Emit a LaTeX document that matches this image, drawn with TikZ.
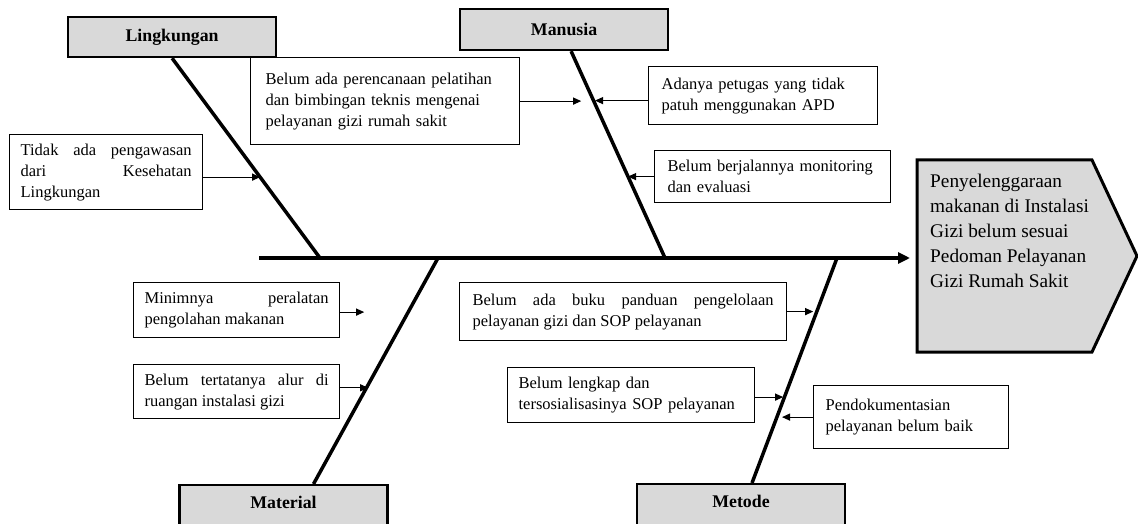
\documentclass[tikz,border=0pt]{standalone}
\usepackage{fontspec}
\setmainfont{Liberation Serif}
\usetikzlibrary{arrows.meta,positioning}
\definecolor{headgray}{HTML}{D9D9D9}

\begin{document}
\begin{tikzpicture}[
  x=1pt,y=-1pt,
  head/.style={draw,line width=2.2pt,fill=headgray,minimum width=208pt,
               minimum height=40pt,inner sep=0pt,
               font=\bfseries\fontsize{17.8}{20}\selectfont},
  foot/.style={head,anchor=north,text height=12pt,text depth=40pt,inner ysep=11pt},
  cause/.style={draw,line width=1.2pt,anchor=north west,inner ysep=0pt,
                font=\fontsize{16.5}{21}\selectfont},
  efftext/.style={anchor=north west,align=left,inner xsep=13pt,inner ysep=14pt,
                  font=\fontsize{19.3}{25}\selectfont},
  bone/.style={line width=3.5pt},
  spine/.style={line width=3.5pt,-{Triangle[length=12pt,width=11pt]}},
  arr/.style={line width=1.1pt,-{Triangle[length=8pt,width=7pt]}}]
\useasboundingbox (0,0) rectangle (1138,524);

\draw[line width=3pt,fill=headgray]
  (917,160) -- (1092,160) -- (1137,256) -- (1092,352) -- (917,352) -- cycle;
\node[efftext] (effect) at (917,160)
  {Penyelenggaraan\\makanan di Instalasi\\Gizi belum sesuai\\Pedoman Pelayanan\\Gizi Rumah Sakit};

\node[head,anchor=north west] (lingk) at (67,16) {Lingkungan};
\node[head,anchor=north west,minimum height=41pt] (manusia) at (459,8) {Manusia};
\node[foot] (material) at (283.5,484) {Material};
\node[foot] (metode) at (741,483) {Metode};

\node[cause,align=justify,inner xsep=11pt,text width=171pt,minimum height=75pt] (envA) at (9,134)
  {Tidak ada pengawasan\linebreak dari Kesehatan\linebreak Lingkungan};
\node[cause,align=left,inner xsep=15pt,text width=239pt,minimum height=87pt] (manA) at (250,57)
  {Belum ada perencanaan pelatihan\\dan bimbingan teknis mengenai\\pelayanan gizi rumah sakit};
\node[cause,align=left,inner xsep=13pt,text width=203pt,minimum height=58pt] (manB) at (648,66)
  {Adanya petugas yang tidak\\patuh menggunakan APD};
\node[cause,align=left,inner xsep=13pt,text width=210pt,minimum height=52pt] (manC) at (654,150)
  {Belum berjalannya monitoring\\dan evaluasi};
\node[cause,align=justify,inner xsep=11pt,text width=184pt,minimum height=55pt] (matA) at (133,282)
  {Minimnya peralatan\linebreak pengolahan makanan};
\node[cause,align=justify,inner xsep=11pt,text width=184pt,minimum height=54pt,below=26pt of matA] (matB)
  {Belum tertatanya alur di\linebreak ruangan instalasi gizi};
\node[cause,align=justify,inner xsep=13pt,text width=301pt,minimum height=58pt] (metA) at (459,282)
  {Belum ada buku panduan pengelolaan\linebreak pelayanan gizi dan SOP pelayanan};
\node[cause,align=left,inner xsep=11pt,text width=225pt,minimum height=55pt] (metB) at (507,367)
  {Belum lengkap dan\\tersosialisasinya SOP pelayanan};
\node[cause,align=left,inner xsep=12pt,text width=171pt,minimum height=63pt] (metC) at (813,385)
  {Pendokumentasian\\pelayanan belum baik};

\coordinate (tail) at (259,258);
\coordinate (jEnv) at (320,258);
\coordinate (jMan) at (665,258);
\coordinate (jMat) at (438,258);
\coordinate (jMet) at (837,258);

\draw[spine,shorten >=7pt] (tail) -- (tail -| effect.west);
\draw[bone] (lingk.south) -- (jEnv);
\draw[bone] ([xshift=7pt]manusia.south) -- (jMan);
\draw[bone] ([xshift=30pt]material.north) -- (jMat);
\draw[bone] ([xshift=11pt]metode.north) -- (jMet);

\draw[arr] ([yshift=-5pt]envA.east) -- ++(57,0);
\draw[arr] (manA.east) -- ++(61,0);
\draw[arr] ([yshift=-5pt]manB.west) -- ++(-53,0);
\draw[arr] (manC.west) -- ++(-26,0);
\draw[arr] ([yshift=-2pt]matA.east) -- ++(24,0);
\draw[arr] ([yshift=4pt]matB.east) -- ++(28,0);
\draw[arr] (metA.east) -- ++(26,0);
\draw[arr] ([yshift=-2pt]metB.east) -- ++(28,0);
\draw[arr] (metC.west) -- ++(-31,0);
\end{tikzpicture}
\end{document}
